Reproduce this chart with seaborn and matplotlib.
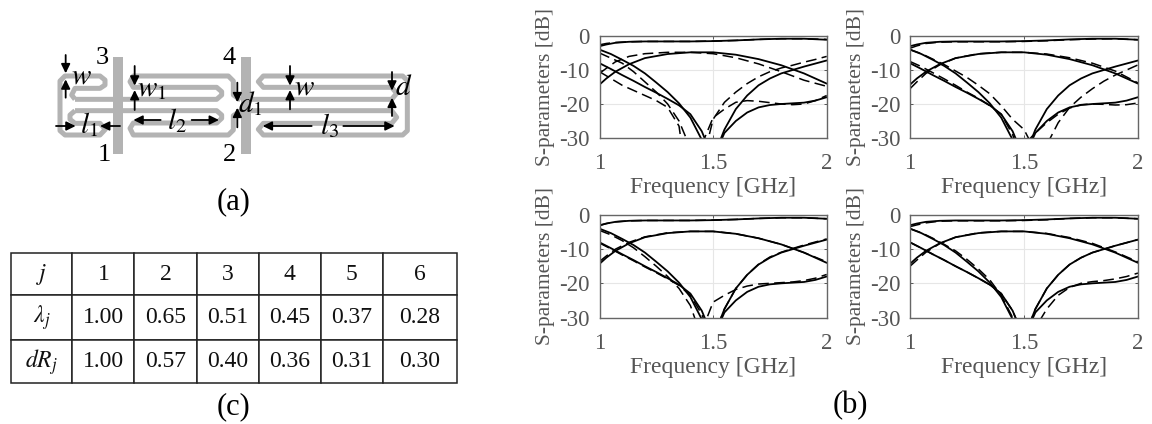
import numpy as np
import pandas as pd
import matplotlib
matplotlib.use("Agg")
import matplotlib.pyplot as plt
import seaborn as sns

W, H = 1152, 424

freq_wide = [1.0, 1.03, 1.07, 1.13, 1.2, 1.3, 1.4, 1.5, 1.6, 1.7, 1.8, 1.9, 2.0]
freq_low = [1.0, 1.05, 1.1, 1.15, 1.2, 1.25, 1.3, 1.35, 1.4, 1.45, 1.5, 1.55]
freq_high = [1.45, 1.5, 1.55, 1.6, 1.65, 1.7, 1.75, 1.8, 1.85, 1.9, 1.95, 2.0]

# solid curves (measured), close to the same in all four panels
top_solid = [-3.0, -2.5, -2.0, -1.7, -1.6, -1.6, -1.6, -1.5, -1.3, -1.0, -0.8, -0.8, -1.1]
hump_solid = [-14.3, -12.5, -10.5, -8.3, -6.5, -5.3, -4.8, -4.8, -5.5, -6.8, -8.6, -11.0, -14.0]
low_a_solid = [-4.0, -5.3, -7.0, -8.8, -11.0, -13.7, -16.5, -19.8, -24.0, -30.5, -45.0, -60.0]
low_b_solid = [-8.0, -9.7, -11.5, -13.2, -15.0, -16.7, -18.5, -20.4, -23.0, -28.0, -36.0, -50.0]
high_a_solid = [-60.0, -36.0, -27.5, -21.5, -17.5, -14.5, -12.5, -11.0, -10.0, -9.0, -8.1, -7.2]
high_b_solid = [-60.0, -36.0, -28.5, -25.0, -22.5, -21.0, -20.3, -20.0, -19.8, -19.6, -19.0, -18.0]

# dashed curves, panel by panel
p1_top = [-2.6, -2.2, -1.9, -1.7, -1.6, -1.6, -1.6, -1.5, -1.3, -1.0, -0.8, -0.8, -1.0]
p1_hump = [-11.0, -9.5, -7.6, -6.0, -5.2, -4.8, -4.8, -5.2, -6.4, -8.2, -10.5, -13.0, -14.8]
p1_low_a = [-5.0, -6.5, -8.0, -10.5, -13.5, -16.5, -20.0, -25.0, -33.0, -45.0, -60.0, -60.0]
p1_low_b = [-10.5, -12.5, -14.5, -16.0, -17.5, -19.0, -21.0, -26.5, -50.0, -60.0, -60.0, -60.0]
p1_high_a = [-38.0, -24.5, -19.5, -16.5, -14.0, -12.0, -10.5, -9.4, -8.6, -7.7, -6.9, -6.0]
p1_high_b = [-32.0, -24.0, -21.5, -19.5, -19.0, -19.2, -19.6, -20.0, -20.2, -20.0, -19.0, -17.5]

p2_top = [-3.6, -2.9, -2.2, -1.8, -1.7, -1.7, -1.7, -1.6, -1.4, -1.1, -0.9, -0.8, -1.1]
p2_hump = [-15.5, -13.5, -11.0, -8.5, -6.5, -5.2, -4.8, -4.8, -5.3, -6.4, -8.0, -10.3, -13.8]
p2_low_a = [-4.0, -5.2, -6.8, -8.4, -10.3, -12.2, -14.5, -17.0, -20.5, -24.5, -27.5, -34.0]
p2_low_b = [-7.5, -9.0, -10.8, -12.6, -14.5, -16.5, -18.3, -20.5, -23.0, -29.0, -38.0, -50.0]
p2_high_a = [-60.0, -60.0, -37.0, -32.0, -25.5, -21.0, -18.0, -15.5, -13.3, -11.5, -10.0, -8.5]
p2_high_b = [-40.0, -32.0, -28.5, -25.5, -23.0, -21.2, -20.2, -20.0, -20.1, -20.3, -20.2, -19.7]

p3_top = [-3.1, -2.5, -2.0, -1.7, -1.6, -1.6, -1.6, -1.5, -1.3, -1.0, -0.8, -0.8, -1.1]
p3_hump = [-13.6, -12.0, -10.0, -8.0, -6.4, -5.2, -4.8, -4.8, -5.5, -6.8, -8.6, -11.0, -13.7]
p3_low_a = [-4.5, -5.8, -7.5, -9.6, -12.2, -15.0, -18.0, -21.5, -26.5, -36.0, -50.0, -60.0]
p3_low_b = [-8.2, -9.9, -11.7, -13.4, -15.2, -16.9, -18.7, -20.6, -23.5, -29.0, -38.0, -50.0]
p3_high_a = [-60.0, -36.0, -27.5, -21.5, -17.5, -14.4, -12.3, -10.9, -9.8, -8.8, -7.9, -7.0]
p3_high_b = [-34.0, -25.5, -23.5, -21.8, -20.8, -20.2, -20.0, -19.8, -19.6, -19.2, -18.5, -17.4]

p4_top = [-3.4, -2.9, -2.3, -1.8, -1.7, -1.7, -1.7, -1.6, -1.4, -1.0, -0.8, -0.8, -1.1]
p4_hump = [-15.0, -13.2, -10.9, -8.4, -6.5, -5.2, -4.8, -4.8, -5.4, -6.6, -8.3, -10.8, -13.7]
p4_low_a = [-4.0, -5.2, -6.8, -8.6, -10.5, -13.0, -15.8, -19.0, -23.5, -30.0, -40.0, -60.0]
p4_low_b = [-8.0, -9.7, -11.5, -13.2, -15.0, -16.7, -18.5, -20.4, -23.0, -28.0, -36.0, -50.0]
p4_high_a = [-60.0, -36.0, -27.5, -21.5, -17.5, -14.5, -12.5, -11.0, -10.0, -9.0, -8.1, -7.2]
p4_high_b = [-60.0, -60.0, -33.0, -27.5, -23.5, -21.2, -20.0, -19.5, -19.2, -18.7, -18.0, -17.0]

yticks = [0, -10, -20, -30]
ytick_labels = ["0", "-10", "-20", "-30"]
xticks = [1, 1.5, 2]
xtick_labels = ["1", "1.5", "2"]

table_head = ["1", "2", "3", "4", "5", "6"]
table_lambda = ["1.00", "0.65", "0.51", "0.45", "0.37", "0.28"]
table_dr = ["1.00", "0.57", "0.40", "0.36", "0.31", "0.30"]

sns.set_theme(style="white")
plt.rcParams["font.family"] = ["Liberation Serif", "DejaVu Serif"]
plt.rcParams["mathtext.fontset"] = "stix"

fig = plt.figure(figsize=(W / 100, H / 100), dpi=100)


def px_axes(left, top, right, bottom):
    return fig.add_axes([left / W, 1 - bottom / H, (right - left) / W, (bottom - top) / H])


########################################################################
# (b) S-parameter panels
panels = [
    ((599.5, 36, 826.7, 138), [p1_top, p1_hump, p1_low_a, p1_low_b, p1_high_a, p1_high_b]),
    ((910, 36, 1138, 138), [p2_top, p2_hump, p2_low_a, p2_low_b, p2_high_a, p2_high_b]),
    ((599.5, 215, 826.7, 317.5), [p3_top, p3_hump, p3_low_a, p3_low_b, p3_high_a, p3_high_b]),
    ((910, 215, 1138, 317.5), [p4_top, p4_hump, p4_low_a, p4_low_b, p4_high_a, p4_high_b]),
]
solid_set = [top_solid, hump_solid, low_a_solid, low_b_solid, high_a_solid, high_b_solid]
grids = [freq_wide, freq_wide, freq_low, freq_low, freq_high, freq_high]

for box, dashed_set in panels:
    ax = px_axes(*box)
    for grid, sol, das in zip(grids, solid_set, dashed_set):
        sns.lineplot(x=grid, y=das, ax=ax, color="black", lw=1.1, errorbar=None,
                     linestyle=(0, (7, 3.5)))
        sns.lineplot(x=grid, y=sol, ax=ax, color="black", lw=1.3, errorbar=None)
    ax.set_xlim(1, 2)
    ax.set_ylim(-30, 0)
    ax.set_xticks(xticks)
    ax.set_xticklabels(xtick_labels)
    ax.set_yticks(yticks)
    ax.set_yticklabels(ytick_labels)
    ax.grid(True, color="#e6e6e6", lw=0.8)
    ax.set_axisbelow(True)
    ax.tick_params(colors="#555555", labelsize=16.5, length=2.5, direction="in", pad=7,
                   top=True, right=True, left=True, bottom=True, width=0.7)
    ax.tick_params(axis="x", pad=11)
    ax.set_xlabel("Frequency [GHz]", fontsize=17, color="#555555", labelpad=2)
    ax.set_ylabel("S-parameters [dB]", fontsize=15.5, color="#555555", labelpad=3)
    for sp in ax.spines.values():
        sp.set_color("#666666")
        sp.set_linewidth(1.0)

fig.text(850 / W, 1 - 406 / H, "(b)", fontsize=22, ha="center", va="center", color="black")

########################################################################
# (a) layout sketch, coordinates follow a 3x pixel grid
sk = fig.add_axes([0, 0, 1, 1], zorder=3)
sk.set_xlim(0, W * 3)
sk.set_ylim(H * 3, 0)
sk.axis("off")
sk.patch.set_alpha(0)

GREY = "#b3b3b3"
left_loop = [(225, 298), (650, 298), (665, 285), (665, 275), (650, 262), (400, 262), (390, 245), (400, 228),
             (685, 228), (700, 243), (700, 285), (722, 300)]
left_loop2 = [(225, 332), (650, 332), (665, 345), (665, 355), (650, 369), (400, 369), (390, 385), (400, 405),
              (685, 405), (700, 390), (700, 347), (722, 332)]
left_outer = [(225, 298), (215, 285), (225, 265), (300, 265), (315, 255), (315, 240), (300, 228), (195, 228),
              (180, 243), (180, 392), (195, 405), (300, 405), (316, 388), (300, 370), (225, 370), (210, 358),
              (210, 345), (225, 332)]
right_up = [(752, 298), (1175, 298), (1190, 280), (1175, 262), (790, 262), (775, 245), (790, 228), (1208, 228),
            (1222, 242), (1222, 392), (1208, 405), (790, 405), (775, 388), (790, 370), (1175, 370), (1190, 352),
            (1175, 332), (752, 332)]
for path in [left_loop, left_loop2, left_outer, right_up]:
    xs, ys = zip(*path)
    sk.plot(xs, ys, color=GREY, lw=3.6, solid_joinstyle="round", solid_capstyle="butt")
for x0 in [338, 722]:
    sk.fill_between([x0, x0 + 31], 172, 462, color=GREY, lw=0)

arrows = [
    ((197, 165), (197, 220)), ((197, 293), (197, 238)),
    ((404, 198), (404, 257)), ((404, 330), (404, 270)),
    ((712, 248), (712, 307)), ((712, 382), (712, 323)),
    ((870, 198), (870, 257)), ((870, 328), (870, 270)),
    ((1176, 216), (1176, 272)), ((1176, 348), (1176, 293)),
    ((168, 378), (227, 378)), ((360, 378), (300, 378)),
    ((482, 360), (400, 360)), ((575, 360), (657, 360)),
    ((935, 378), (788, 378)), ((1030, 378), (1184, 378)),
]
for a, b in arrows:
    sk.annotate("", xy=b, xytext=a,
                arrowprops=dict(arrowstyle="-|>,head_width=0.22,head_length=0.45", color="black", lw=1.3,
                                shrinkA=0, shrinkB=0))

for txt, x, y in [("3", 308, 174), ("4", 688, 174), ("1", 312, 465), ("2", 688, 465)]:
    sk.text(x, y, txt, fontsize=19, ha="center", va="center", color="black")
for txt, x, y in [(r"$w$", 243, 228), (r"$w_1$", 455, 268), (r"$l_1$", 268, 375), (r"$l_2$", 530, 362),
                  (r"$d_1$", 752, 312), (r"$w$", 912, 262), (r"$d$", 1210, 265), (r"$l_3$", 988, 378)]:
    sk.text(x, y, txt, fontsize=21, ha="center", va="center", color="black")
sk.text(700, 605, "(a)", fontsize=22, ha="center", va="center", color="black")
sk.text(700, 1221, "(c)", fontsize=22, ha="center", va="center", color="black")

########################################################################
# (c) table
tb_ax = px_axes(10.7, 252.7, 456.7, 383.3)
tb_ax.axis("off")
col_edges = np.array([32, 217, 403, 590, 776, 962, 1149, 1370])
col_w = np.diff(col_edges) / (col_edges[-1] - col_edges[0])
rows = [[r"$j$"] + table_head, [r"$\lambda_j$"] + table_lambda, [r"$dR_j$"] + table_dr]
tb = tb_ax.table(cellText=rows, colWidths=list(col_w), cellLoc="center", bbox=[0, 0, 1, 1])
tb.auto_set_font_size(False)
row_h = [128 / 392, 135 / 392, 129 / 392]
for (r, c), cell in tb.get_celld().items():
    cell.set_height(row_h[r])
    cell.set_linewidth(1.1)
    cell.set_edgecolor("#222222")
    cell.get_text().set_fontsize(17)
    cell.get_text().set_color("#111111")

fig.savefig("out.png", dpi=100)
